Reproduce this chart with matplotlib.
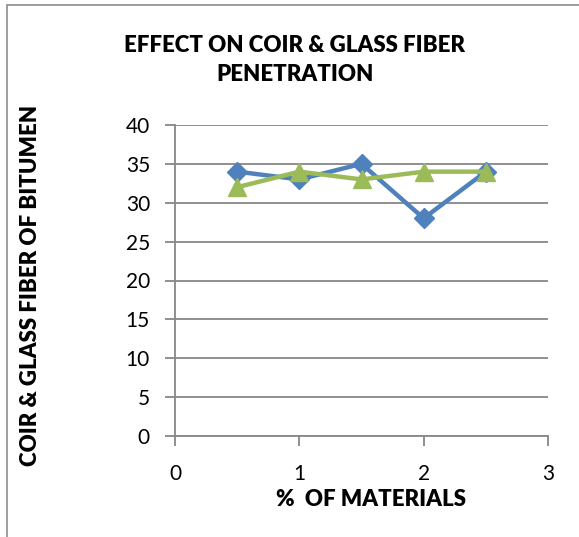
import matplotlib
matplotlib.use("Agg")
import matplotlib.pyplot as plt
from matplotlib.patches import Rectangle

plt.rcParams['font.family'] = ['Lato', 'DejaVu Sans']

# Data
materials_pct = [0.5, 1.0, 1.5, 2.0, 2.5]
coir_penetration = [34, 33, 35, 28, 34]
glass_penetration = [32, 34, 33, 34, 34]
x_ticks = [0, 1, 2, 3]
y_ticks = [0, 5, 10, 15, 20, 25, 30, 35, 40]

title_text = "EFFECT ON COIR & GLASS FIBER\nPENETRATION"
x_label = "%  OF MATERIALS"
y_label = "COIR & GLASS FIBER OF BITUMEN"

blue = "#4F81BD"
green = "#9BBB59"
grid_gray = "#878787"

W, H = 579, 537
fig = plt.figure(figsize=(W / 100, H / 100), dpi=100)
fig.patch.set_facecolor("white")

# outer chart frame (left and top edges visible)
fig.add_artist(Rectangle((7 / W, -0.05), 1.2, 1 - 5 / H + 0.05,
                         transform=fig.transFigure, fill=False,
                         edgecolor="#8C8C8C", linewidth=1.2))

ax = fig.add_axes([175 / W, 1 - 436 / H, 373 / W, 311 / H])

ax.plot(materials_pct, coir_penetration, color=blue, linewidth=3.2,
        marker="D", markersize=10.5, markerfacecolor=blue,
        markeredgecolor=blue, zorder=3)
ax.plot(materials_pct, glass_penetration, color=green, linewidth=3.2,
        marker="^", markersize=13, markerfacecolor=green,
        markeredgecolor=green, zorder=4)

ax.set_xlim(0, 3)
ax.set_ylim(0, 40)
ax.set_xticks(x_ticks)
ax.set_yticks(y_ticks)

ax.yaxis.grid(True, color=grid_gray, linewidth=1.3)
ax.set_axisbelow(True)

for side in ["top", "right"]:
    ax.spines[side].set_visible(False)
for side in ["left", "bottom"]:
    ax.spines[side].set_color(grid_gray)
    ax.spines[side].set_linewidth(1.3)

ax.tick_params(axis="y", direction="out", length=7, width=1.3,
               color=grid_gray, labelsize=15, pad=11)
ax.tick_params(axis="x", direction="out", length=7, width=1.3,
               color=grid_gray, labelsize=15, pad=13)

label_font = dict(fontsize=16, fontweight=800, family="Lato")
fig.text(371 / W, 1 - 500 / H, x_label, ha="center", va="center", **label_font)
fig.text(31 / W, 1 - 285 / H, y_label, ha="center", va="center",
         rotation=90, **label_font)
fig.text(295 / W, 1 - 60 / H, title_text, ha="center", va="center",
         linespacing=1.5, **label_font)

fig.savefig("out.png", dpi=100)
